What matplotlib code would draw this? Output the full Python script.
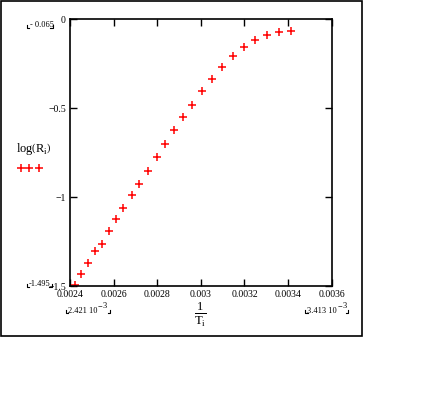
import matplotlib
matplotlib.use("AGG")
from matplotlib import pyplot as plt
from matplotlib.lines import Line2D
from matplotlib.patches import Rectangle

plt.rcParams['font.family'] = ['Liberation Serif', 'DejaVu Serif']
plt.rcParams['mathtext.fontset'] = 'custom'
plt.rcParams['mathtext.rm'] = 'Liberation Serif'
plt.rcParams['mathtext.it'] = 'Liberation Serif'

# 1/T_i and log(R_i)
inv_t = [0.002422, 0.002451, 0.002484, 0.002515, 0.002545, 0.002578, 0.002610,
         0.002645, 0.002683, 0.002717, 0.002756, 0.002798, 0.002836, 0.002876,
         0.002918, 0.002960, 0.003006, 0.003050, 0.003099, 0.003146, 0.003197,
         0.003250, 0.003304, 0.003359, 0.003413]
log_r = [-1.495, -1.431, -1.373, -1.303, -1.266, -1.188, -1.122, -1.060, -0.987,
         -0.925, -0.854, -0.775, -0.702, -0.622, -0.551, -0.480, -0.404, -0.337,
         -0.270, -0.206, -0.157, -0.118, -0.087, -0.070, -0.065]

xticks = [0.0024, 0.0026, 0.0028, 0.003, 0.0032, 0.0034, 0.0036]
xticklabels = ["0.0024", "0.0026", "0.0028", "0.003", "0.0032", "0.0034", "0.0036"]
yticks = [0, -0.5, -1, -1.5]
yticklabels = ["0", "\u22120.5", "\u22121", "\u22121.5"]

W, H = 447, 403
fig = plt.figure(figsize=(W / 100, H / 100), dpi=100)


def fx(px):
    return px / W


def fy(py):
    return 1 - py / H


ax = fig.add_axes([fx(70), fy(286), fx(331.7) - fx(70), fy(19.3) - fy(286)])
ax.plot(inv_t, log_r, linestyle='none', marker='+', color='red',
        markersize=6, markeredgewidth=1.1)
ax.set_xlim(0.0024, 0.0036)
ax.set_ylim(-1.5, 0)
ax.set_xticks(xticks)
ax.set_xticklabels(xticklabels)
ax.set_yticks(yticks)
ax.set_yticklabels(yticklabels)
ax.tick_params(direction='in', length=5, width=1, labelsize=7, pad=3,
               top=True, right=True, colors='black')
for s in ax.spines.values():
    s.set_linewidth(1.2)

# outer frame
fig.add_artist(Rectangle((fx(0.5), fy(336)), fx(362) - fx(0.5), fy(0.5) - fy(336),
                         transform=fig.transFigure, fill=False, lw=1.2, ec='black'))


def bracket(x0, x1, y):
    for xa, xb in [(x0, x0 + 2.5), (x1, x1 - 2.5)]:
        fig.add_artist(Line2D([fx(xa), fx(xa), fx(xb)], [fy(y - 3), fy(y), fy(y)],
                              transform=fig.transFigure, color='black', lw=0.8))


# limit readouts
fig.text(fx(30), fy(25), "- 0.065", fontsize=6, ha='left', va='center')
bracket(26.5, 52.5, 28)
fig.text(fx(28.5), fy(284), "-1.495", fontsize=6, ha='left', va='center')
bracket(26.5, 51.5, 287)
fig.text(fx(97), fy(311), "2.421 10", fontsize=6, ha='right', va='center')
fig.text(fx(98), fy(307), "\u2212", fontsize=6, ha='left', va='center')
fig.text(fx(103), fy(306), "3", fontsize=6, ha='left', va='center')
bracket(65.5, 110, 313)
fig.text(fx(337), fy(311), "3.413 10", fontsize=6, ha='right', va='center')
fig.text(fx(338), fy(307), "\u2212", fontsize=6, ha='left', va='center')
fig.text(fx(343), fy(306), "3", fontsize=6, ha='left', va='center')
bracket(305, 348, 313)

# axis labels
fig.text(fx(34), fy(150), r"log$\left(\mathrm{R}_{\mathrm{i}}\right)$", fontsize=9,
         ha='center', va='center')
for px in [20.7, 29.3, 39.3]:
    fig.add_artist(Line2D([fx(px)], [fy(167.7)], transform=fig.transFigure,
                          marker='+', color='red', markersize=6, markeredgewidth=1.1))
fig.text(fx(200), fy(314), r"$\frac{\mathrm{1}}{\mathrm{T}_{\mathrm{i}}}$", fontsize=13,
         ha='center', va='center')

fig.savefig("out.png", dpi=100)
